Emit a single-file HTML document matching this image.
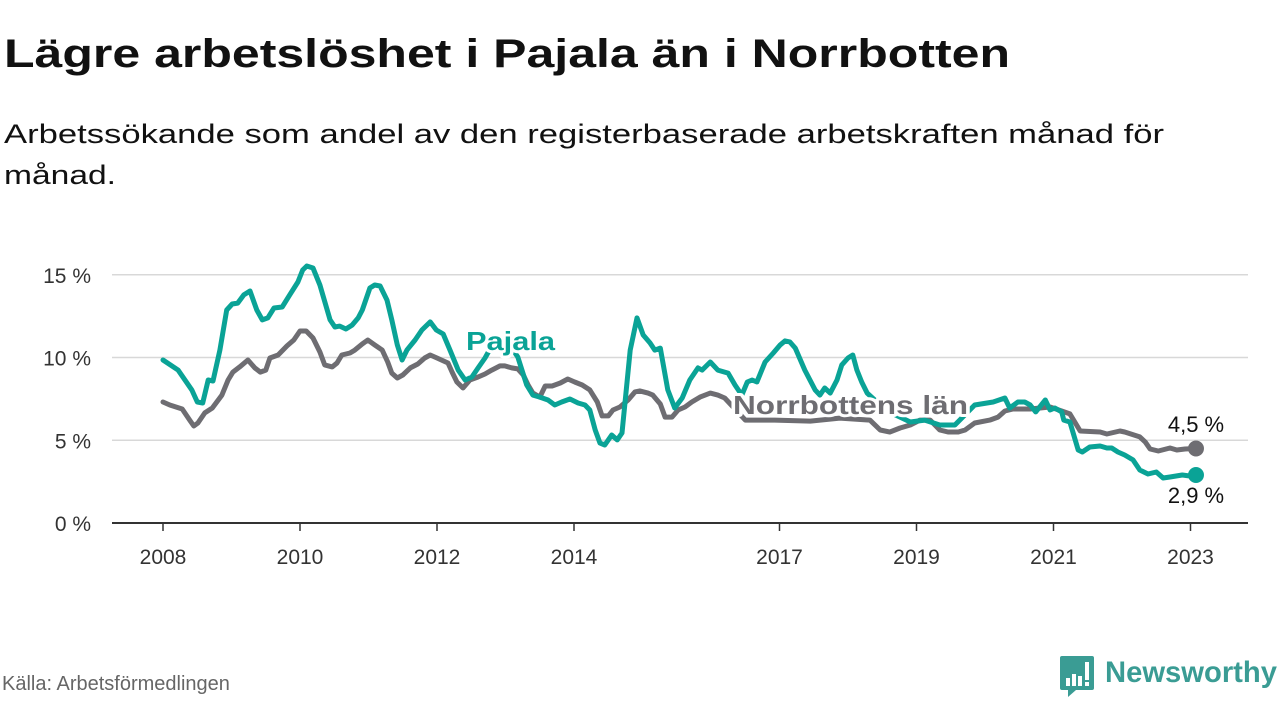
<!DOCTYPE html>
<html><head><meta charset="utf-8">
<style>
html,body{margin:0;padding:0;background:#fff;width:1280px;height:720px;overflow:hidden;font-family:"Liberation Sans",sans-serif;}
</style></head>
<body>
<svg id="chart" width="1280" height="720" xmlns="http://www.w3.org/2000/svg" font-family="Liberation Sans, sans-serif">
  <text x="4" y="67" font-size="40" font-weight="bold" fill="#111" textLength="1006" lengthAdjust="spacingAndGlyphs">Lägre arbetslöshet i Pajala än i Norrbotten</text>
  <text x="4" y="143" font-size="27" fill="#111" textLength="1160" lengthAdjust="spacingAndGlyphs">Arbetssökande som andel av den registerbaserade arbetskraften månad för</text>
  <text x="4" y="184" font-size="27" fill="#111" textLength="112" lengthAdjust="spacingAndGlyphs">månad.</text>
  <g id="grid"></g>
  <g id="xaxis"></g>
  <g id="series"></g>
  <g id="labels"></g>
  <text x="2" y="690" font-size="20" fill="#666">Källa: Arbetsförmedlingen</text>
  <g>
    <path d="M1062 656 h30 a2 2 0 0 1 2 2 v30 a2 2 0 0 1 -2 2 h-16 l-8 7 v-7 h-6 a2 2 0 0 1 -2 -2 v-30 a2 2 0 0 1 2 -2z" fill="#3a9c94"/>
    <rect x="1066" y="678" width="4" height="8" fill="#fff"/>
    <rect x="1072" y="674" width="4" height="12" fill="#fff"/>
    <rect x="1078" y="676" width="4" height="10" fill="#fff"/>
    <rect x="1085" y="662" width="4" height="18" fill="#fff"/>
    <rect x="1085" y="682" width="4" height="4" fill="#fff"/>
    <text x="1105" y="682" font-size="30" font-weight="bold" fill="#3a9c94" textLength="172" lengthAdjust="spacingAndGlyphs">Newsworthy</text>
  </g>
</svg>
<script>
const yTicks = [0, 5, 10, 15];
const yTickLabels = ["0 %", "5 %", "10 %", "15 %"];
const xTicks = [2008, 2010, 2012, 2014, 2017, 2019, 2021, 2023];
const pajalaDates = [2008.00,2008.22,2008.42,2008.50,2008.58,2008.66,2008.73,2008.83,2008.93,2009.01,2009.09,2009.18,2009.27,2009.37,2009.45,2009.53,2009.62,2009.74,2009.85,2009.97,2010.04,2010.10,2010.19,2010.29,2010.44,2010.51,2010.58,2010.67,2010.76,2010.85,2010.91,2011.02,2011.09,2011.17,2011.27,2011.34,2011.42,2011.49,2011.56,2011.68,2011.78,2011.90,2011.99,2012.09,2012.19,2012.31,2012.41,2012.51,2012.60,2012.70,2012.80,2012.99,2013.09,2013.18,2013.31,2013.40,2013.50,2013.62,2013.72,2013.82,2013.94,2014.06,2014.16,2014.23,2014.31,2014.38,2014.45,2014.55,2014.63,2014.70,2014.82,2014.92,2015.01,2015.11,2015.18,2015.26,2015.37,2015.47,2015.58,2015.69,2015.81,2015.87,2015.99,2016.10,2016.25,2016.35,2016.45,2016.53,2016.60,2016.67,2016.79,2016.91,2017.01,2017.08,2017.15,2017.23,2017.37,2017.52,2017.59,2017.66,2017.74,2017.84,2017.91,2018.00,2018.07,2018.13,2018.20,2018.28,2018.47,2018.69,2018.91,2019.12,2019.34,2019.56,2019.85,2020.12,2020.29,2020.36,2020.48,2020.58,2020.66,2020.74,2020.88,2020.95,2021.02,2021.12,2021.15,2021.24,2021.36,2021.42,2021.53,2021.68,2021.78,2021.85,2021.94,2022.04,2022.16,2022.26,2022.38,2022.50,2022.60,2022.70,2022.79,2022.88,2022.99,2023.08];
const pajalaValues = [9.85,9.24,8.04,7.31,7.25,8.64,8.58,10.45,12.87,13.23,13.29,13.78,14.02,12.87,12.27,12.39,12.99,13.05,13.78,14.56,15.29,15.53,15.41,14.38,12.27,11.84,11.90,11.72,11.96,12.39,12.87,14.20,14.38,14.32,13.47,12.27,10.76,9.85,10.45,11.06,11.66,12.15,11.66,11.42,10.45,9.24,8.64,8.82,9.37,9.97,10.70,10.76,10.57,10.03,8.34,7.73,7.61,7.43,7.13,7.31,7.49,7.25,7.13,6.83,5.62,4.83,4.71,5.32,5.02,5.44,10.45,12.39,11.36,10.88,10.45,10.57,8.04,6.95,7.55,8.64,9.37,9.24,9.73,9.24,9.06,8.34,7.73,8.52,8.64,8.52,9.73,10.27,10.76,11.00,10.94,10.57,9.24,8.04,7.73,8.16,7.85,8.64,9.55,9.97,10.15,9.24,8.52,7.85,7.13,6.53,6.10,6.22,5.92,5.92,7.13,7.31,7.55,6.95,7.31,7.31,7.13,6.71,7.43,6.83,6.95,6.71,6.22,6.10,4.41,4.29,4.59,4.65,4.53,4.53,4.29,4.11,3.81,3.20,2.96,3.08,2.72,2.78,2.84,2.90,2.84,2.9];
const norrDates = [2008.00,2008.10,2008.28,2008.39,2008.45,2008.51,2008.61,2008.72,2008.86,2008.95,2009.02,2009.12,2009.24,2009.34,2009.42,2009.50,2009.56,2009.68,2009.81,2009.91,2010.00,2010.09,2010.19,2010.29,2010.36,2010.47,2010.54,2010.61,2010.73,2010.80,2010.91,2010.99,2011.09,2011.20,2011.28,2011.34,2011.42,2011.50,2011.61,2011.72,2011.82,2011.90,2012.00,2012.16,2012.22,2012.29,2012.38,2012.48,2012.60,2012.70,2012.80,2012.92,2012.99,2013.09,2013.18,2013.26,2013.33,2013.40,2013.50,2013.58,2013.68,2013.80,2013.91,2014.01,2014.12,2014.23,2014.34,2014.41,2014.50,2014.57,2014.67,2014.79,2014.89,2014.96,2015.08,2015.15,2015.26,2015.33,2015.43,2015.52,2015.62,2015.72,2015.84,2015.99,2016.10,2016.20,2016.50,2016.93,2017.45,2017.88,2018.32,2018.47,2018.61,2018.76,2018.91,2019.05,2019.20,2019.34,2019.46,2019.61,2019.71,2019.85,2020.07,2020.19,2020.29,2020.41,2020.66,2020.95,2021.12,2021.24,2021.39,2021.68,2021.78,2021.97,2022.04,2022.26,2022.34,2022.41,2022.53,2022.70,2022.80,2022.92,2023.08];
const norrValues = [7.31,7.13,6.89,6.22,5.86,6.04,6.65,6.95,7.73,8.64,9.12,9.43,9.85,9.37,9.12,9.24,9.97,10.15,10.70,11.06,11.60,11.60,11.18,10.33,9.55,9.43,9.67,10.15,10.27,10.45,10.82,11.06,10.76,10.45,9.73,9.06,8.76,8.94,9.37,9.61,9.97,10.15,9.97,9.67,9.12,8.52,8.16,8.64,8.82,9.00,9.24,9.49,9.49,9.37,9.31,8.94,8.34,7.85,7.61,8.28,8.28,8.46,8.70,8.52,8.34,8.04,7.31,6.47,6.47,6.83,7.01,7.43,7.92,7.98,7.85,7.73,7.19,6.40,6.40,6.83,7.01,7.31,7.61,7.85,7.73,7.55,6.22,6.22,6.16,6.34,6.22,5.62,5.50,5.74,5.92,6.22,6.22,5.62,5.50,5.50,5.62,6.04,6.22,6.40,6.77,6.89,6.89,7.01,6.77,6.59,5.56,5.50,5.38,5.56,5.50,5.20,4.89,4.47,4.35,4.53,4.41,4.47,4.5];
const lastLabels = ["4,5 %", "2,9 %"];

const NS = "http://www.w3.org/2000/svg";
const X0 = 163, XPY = 68.5, Y0 = 523, YPP = 16.55;
function xs(d){ return X0 + (d - 2008) * XPY; }
function ys(v){ return Y0 - v * YPP; }
function mk(tag, attrs, parent){ const e = document.createElementNS(NS, tag); for (const k in attrs) e.setAttribute(k, attrs[k]); parent.appendChild(e); return e; }

const grid = document.getElementById('grid');
yTicks.forEach((t, i) => {
  if (t > 0) {
    const l = mk('line', {x1: 112, x2: 1248, y1: ys(t), y2: ys(t), stroke: '#d8d8d8', 'stroke-width': 1.5}, grid);
    
    
  }
  const tx = mk('text', {x: 91, y: ys(t) + 8, 'font-size': 21, fill: '#333', 'text-anchor': 'end'}, grid);
  tx.textContent = yTickLabels[i];
  
  
});
const xa = document.getElementById('xaxis');
const base = mk('line', {x1: 112, x2: 1248, y1: Y0, y2: Y0, stroke: '#333', 'stroke-width': 2}, xa);


xTicks.forEach(t => {
  const tk = mk('line', {x1: xs(t), x2: xs(t), y1: Y0, y2: Y0 + 8, stroke: '#333', 'stroke-width': 1.5}, xa);
  
  
  const tx = mk('text', {x: xs(t), y: 564, 'font-size': 21, fill: '#333', 'text-anchor': 'middle'}, xa);
  tx.textContent = t;
  
  
});

const sg = document.getElementById('series');
function line(dates, vals, color, name){
  const d = dates.map((t, i) => (i ? 'L' : 'M') + xs(t).toFixed(1) + ' ' + ys(vals[i]).toFixed(1)).join(' ');
  const p = mk('path', {d: d, fill: 'none', stroke: color, 'stroke-width': 5, 'stroke-linejoin': 'round', 'stroke-linecap': 'round'}, sg);
  
  
  const n = dates.length - 1;
  const c = mk('circle', {cx: xs(dates[n]), cy: ys(vals[n]), r: 8, fill: color}, sg);
  
  
}
const TEAL = '#0aa396', GRAY = '#6e6d72';
line(norrDates, norrValues, GRAY, 'norrbotten');
line(pajalaDates, pajalaValues, TEAL, 'pajala');

const lg = document.getElementById('labels');
function lab(x, y, txt, color, name, bold, anchor, len){
  const t = mk('text', {x: x, y: y, 'font-size': bold ? 26 : 22, 'font-weight': bold ? 'bold' : 'normal', fill: color, stroke: '#fff', 'stroke-width': 6, 'paint-order': 'stroke', 'stroke-linejoin': 'round', 'text-anchor': anchor || 'start'}, lg);
  if (len) { t.setAttribute('textLength', len); t.setAttribute('lengthAdjust', 'spacingAndGlyphs'); }
  t.textContent = txt;
  
  
}
lab(466, 350, 'Pajala', TEAL, 'pajala-series-label', true, 'start', 89);
lab(733, 414, 'Norrbottens län', GRAY, 'norrbotten-series-label', true, 'start', 235);
lab(1196, 432, lastLabels[0], '#111', 'norrbotten-last-value', false, 'middle');
lab(1196, 503, lastLabels[1], '#111', 'pajala-last-value', false, 'middle');
</script>
</body></html>
